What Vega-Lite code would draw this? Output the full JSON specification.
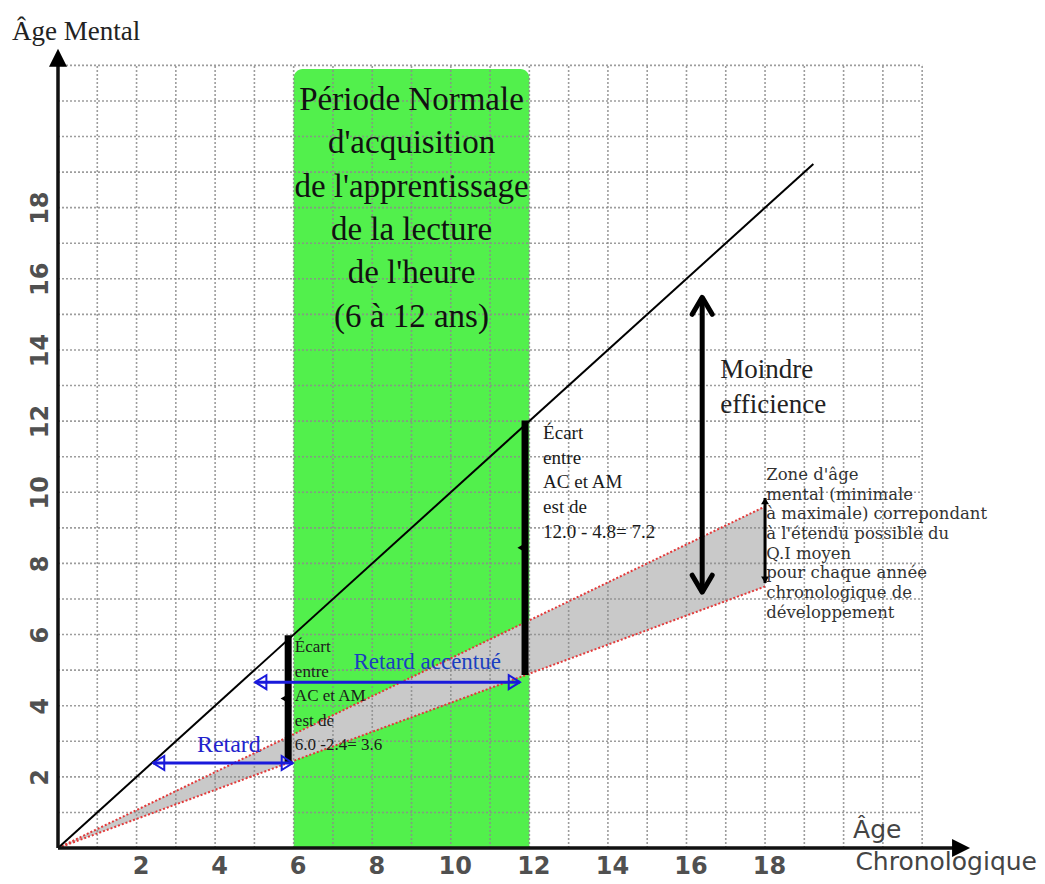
{
  "$schema": "https://vega.github.io/schema/vega-lite/v6.json",
  "width": 982,
  "height": 836,
  "autosize": {"type": "none"},
  "padding": {"left": 58, "top": 12, "right": 5, "bottom": 36},
  "background": "white",
  "config": {"view": {"stroke": null}},
  "datasets": {
    "green": [{"x": 6, "x2": 12, "y": 0, "y2": 21.9}],
    "band": [{"x": 0, "y": 0, "y2": 0}, {"x": 18, "y": 9.6, "y2": 7.35}],
    "edges": [{"x": 0, "y": 0, "edge": "upper"}, {"x": 18, "y": 9.6, "edge": "upper"}, {"x": 0, "y": 0, "edge": "lower"}, {"x": 18, "y": 7.35, "edge": "lower"}],
    "gridV": [{"x": 1, "y": 0, "y2": 22}, {"x": 2, "y": 0, "y2": 22}, {"x": 3, "y": 0, "y2": 22}, {"x": 4, "y": 0, "y2": 22}, {"x": 5, "y": 0, "y2": 22}, {"x": 6, "y": 0, "y2": 22}, {"x": 7, "y": 0, "y2": 22}, {"x": 8, "y": 0, "y2": 22}, {"x": 9, "y": 0, "y2": 22}, {"x": 10, "y": 0, "y2": 22}, {"x": 11, "y": 0, "y2": 22}, {"x": 12, "y": 0, "y2": 22}, {"x": 13, "y": 0, "y2": 22}, {"x": 14, "y": 0, "y2": 22}, {"x": 15, "y": 0, "y2": 22}, {"x": 16, "y": 0, "y2": 22}, {"x": 17, "y": 0, "y2": 22}, {"x": 18, "y": 0, "y2": 22}, {"x": 19, "y": 0, "y2": 22}, {"x": 20, "y": 0, "y2": 22}, {"x": 21, "y": 0, "y2": 22}, {"x": 22, "y": 0, "y2": 22}],
    "gridH": [{"y": 1, "x": 0, "x2": 22}, {"y": 2, "x": 0, "x2": 22}, {"y": 3, "x": 0, "x2": 22}, {"y": 4, "x": 0, "x2": 22}, {"y": 5, "x": 0, "x2": 22}, {"y": 6, "x": 0, "x2": 22}, {"y": 7, "x": 0, "x2": 22}, {"y": 8, "x": 0, "x2": 22}, {"y": 9, "x": 0, "x2": 22}, {"y": 10, "x": 0, "x2": 22}, {"y": 11, "x": 0, "x2": 22}, {"y": 12, "x": 0, "x2": 22}, {"y": 13, "x": 0, "x2": 22}, {"y": 14, "x": 0, "x2": 22}, {"y": 15, "x": 0, "x2": 22}, {"y": 16, "x": 0, "x2": 22}, {"y": 17, "x": 0, "x2": 22}, {"y": 18, "x": 0, "x2": 22}, {"y": 19, "x": 0, "x2": 22}, {"y": 20, "x": 0, "x2": 22}, {"y": 21, "x": 0, "x2": 22}, {"y": 22, "x": 0, "x2": 22}],
    "diag": [{"x": 0, "y": 0}, {"x": 19.23, "y": 19.23}],
    "axes": [{"x": 0, "x2": 0, "y": 0, "y2": 22.1}, {"x": 0, "x2": 22.9, "y": 0, "y2": 0}],
    "tips": [{"x": 0, "y": 22.47, "dir": "up"}, {"x": 23.22, "y": 0, "dir": "right"}],
    "brackets": [{"x": 5.86, "y": 2.42, "y2": 5.98}, {"x": 11.89, "y": 4.86, "y2": 12.02}],
    "notches": [{"x": 5.86, "y": 4.2}, {"x": 11.89, "y": 8.44}],
    "blue": [{"x": 2.42, "x2": 5.98, "y": 2.39}, {"x": 5.02, "x2": 11.76, "y": 4.66}],
    "blueHeads": [{"x": 2.42, "y": 2.39, "side": "left"}, {"x": 5.98, "y": 2.39, "side": "right"}, {"x": 5.02, "y": 4.66, "side": "left"}, {"x": 11.76, "y": 4.66, "side": "right"}],
    "bigArrow": [{"x": 16.4, "y": 7.19, "y2": 15.48}],
    "bigHeads": [{"x": 16.4, "y": 15.48, "end": "top"}, {"x": 16.4, "y": 7.19, "end": "bottom"}],
    "smallArrow": [{"x": 18.0, "y": 7.45, "y2": 9.84}],
    "smallHeads": [{"x": 18.0, "y": 9.84, "end": "top"}, {"x": 18.0, "y": 7.45, "end": "bottom"}],
    "period": [{"x": 9.0, "y": 21.03, "text": "Période Normale\nd'acquisition\nde l'apprentissage\nde la lecture\nde l'heure\n(6 à 12 ans)"}],
    "moindre": [{"x": 16.86, "y": 13.44, "text": "Moindre\nefficience"}],
    "retard": [{"x": 4.35, "y": 2.9, "text": "Retard"}],
    "retardAcc": [{"x": 9.4, "y": 5.23, "text": "Retard accentué"}],
    "ecart1": [{"x": 6.03, "y": 5.65, "text": "Écart\nentre\nAC et AM\nest de\n6.0 -2.4= 3.6"}],
    "ecart2": [{"x": 12.35, "y": 11.67, "text": "Écart\nentre\nAC et AM\nest de\n12.0 - 4.8= 7.2"}],
    "zone": [{"x": 18.03, "y": 10.49, "text": "Zone d'âge\nmental (minimale\nà maximale) correpondant\nà l'étendu possible du\nQ.I moyen\npour chaque année\nchronologique de\ndéveloppement"}],
    "ageMental": [{"x": -1.17, "y": 22.94, "text": "Âge Mental"}],
    "ageChrono": [{"x": 20.24, "y": 0.51, "text": "Âge"}, {"x": 20.3, "y": -0.39, "text": "Chronologique"}]
  },
  "encoding": {
    "x": {
      "field": "x", "type": "quantitative",
      "scale": {"domain": [0, 25], "nice": false, "zero": false},
      "axis": {"values": [2, 4, 6, 8, 10, 12, 14, 16, 18], "title": null, "domain": false, "ticks": false, "grid": false,
               "labelFont": "DejaVu Sans", "labelFontSize": 24, "labelFontWeight": "bold", "labelColor": "#505050", "labelPadding": 6, "labelOffset": 4, "zindex": 1}
    },
    "y": {
      "field": "y", "type": "quantitative",
      "scale": {"domain": [0, 23.5], "nice": false, "zero": false},
      "axis": {"values": [2, 4, 6, 8, 10, 12, 14, 16, 18], "title": null, "domain": false, "ticks": false, "grid": false,
               "labelFont": "DejaVu Sans", "labelFontSize": 24, "labelFontWeight": "bold", "labelColor": "#505050", "labelPadding": 6,
               "labelAngle": 270, "labelAlign": "center", "labelBaseline": "bottom", "zindex": 1}
    }
  },
  "layer": [
    {"data": {"name": "green"}, "mark": {"type": "rect", "color": "#52F04C", "cornerRadiusTopLeft": 9, "cornerRadiusTopRight": 9},
     "encoding": {"x2": {"field": "x2"}, "y2": {"field": "y2"}}},
    {"data": {"name": "band"}, "mark": {"type": "area", "color": "#C9C9C9", "opacity": 1},
     "encoding": {"y2": {"field": "y2"}}},
    {"data": {"name": "gridV"}, "mark": {"type": "rule", "color": "#8c8c8c", "strokeWidth": 1.6, "strokeDash": [2, 2], "opacity": 0.85},
     "encoding": {"y2": {"field": "y2"}}},
    {"data": {"name": "gridH"}, "mark": {"type": "rule", "color": "#8c8c8c", "strokeWidth": 1.6, "strokeDash": [2, 2], "opacity": 0.85},
     "encoding": {"x2": {"field": "x2"}}},
    {"data": {"name": "edges"}, "mark": {"type": "line", "color": "#E33A3A", "strokeWidth": 2, "strokeDash": [2, 2]},
     "encoding": {"detail": {"field": "edge"}}},
    {"data": {"name": "diag"}, "mark": {"type": "line", "color": "#000000", "strokeWidth": 2}, "encoding": {}},
    {"data": {"name": "axes"}, "mark": {"type": "rule", "color": "#111111", "strokeWidth": 3.5},
     "encoding": {"x2": {"field": "x2"}, "y2": {"field": "y2"}}},
    {"data": {"name": "tips"}, "transform": [{"filter": "datum.dir == 'up'"}],
     "mark": {"type": "point", "shape": "M0,0 L-1,2 L1,2 Z", "filled": true, "color": "#000000", "size": 324, "opacity": 1}},
    {"data": {"name": "tips"}, "transform": [{"filter": "datum.dir == 'right'"}],
     "mark": {"type": "point", "shape": "M0,0 L-2,-1 L-2,1 Z", "filled": true, "color": "#000000", "size": 324, "opacity": 1}},
    {"data": {"name": "brackets"}, "mark": {"type": "rule", "color": "#000000", "strokeWidth": 7},
     "encoding": {"y2": {"field": "y2"}}},
    {"data": {"name": "notches"}, "mark": {"type": "point", "shape": "triangle-left", "filled": true, "color": "#000000", "size": 70, "opacity": 1, "xOffset": -4}},
    {"data": {"name": "blue"}, "mark": {"type": "rule", "color": "#1A1ADB", "strokeWidth": 3},
     "encoding": {"x2": {"field": "x2"}}},
    {"data": {"name": "blueHeads"}, "transform": [{"filter": "datum.side == 'left'"}],
     "mark": {"type": "point", "shape": "M0,0 L1.6,-1 L1.6,1 Z", "filled": false, "color": "#1A1ADB", "strokeWidth": 2, "size": 196, "opacity": 1}},
    {"data": {"name": "blueHeads"}, "transform": [{"filter": "datum.side == 'right'"}],
     "mark": {"type": "point", "shape": "M0,0 L-1.6,-1 L-1.6,1 Z", "filled": false, "color": "#1A1ADB", "strokeWidth": 2, "size": 196, "opacity": 1}},
    {"data": {"name": "bigArrow"}, "mark": {"type": "rule", "color": "#000000", "strokeWidth": 5},
     "encoding": {"y2": {"field": "y2"}}},
    {"data": {"name": "bigHeads"}, "transform": [{"filter": "datum.end == 'top'"}],
     "mark": {"type": "point", "shape": "M-1,1.7 L0,0 L1,1.7", "filled": false, "color": "#000000", "strokeWidth": 5, "strokeCap": "round", "strokeJoin": "round", "size": 400, "opacity": 1}},
    {"data": {"name": "bigHeads"}, "transform": [{"filter": "datum.end == 'bottom'"}],
     "mark": {"type": "point", "shape": "M-1,-1.7 L0,0 L1,-1.7", "filled": false, "color": "#000000", "strokeWidth": 5, "strokeCap": "round", "strokeJoin": "round", "size": 400, "opacity": 1}},
    {"data": {"name": "smallArrow"}, "mark": {"type": "rule", "color": "#000000", "strokeWidth": 3},
     "encoding": {"y2": {"field": "y2"}}},
    {"data": {"name": "smallHeads"}, "transform": [{"filter": "datum.end == 'top'"}],
     "mark": {"type": "point", "shape": "M-1,1.6 L0,0 L1,1.6 Z", "filled": true, "color": "#000000", "size": 64, "opacity": 1}},
    {"data": {"name": "smallHeads"}, "transform": [{"filter": "datum.end == 'bottom'"}],
     "mark": {"type": "point", "shape": "M-1,-1.6 L0,0 L1,-1.6 Z", "filled": true, "color": "#000000", "size": 64, "opacity": 1}},
    {"data": {"name": "period"}, "mark": {"type": "text", "font": "Liberation Serif", "fontSize": 33, "lineHeight": 43.4, "lineBreak": "\n", "align": "center", "baseline": "middle", "color": "#111111"},
     "encoding": {"text": {"field": "text"}}},
    {"data": {"name": "moindre"}, "mark": {"type": "text", "font": "Liberation Serif", "fontSize": 27, "lineHeight": 35, "lineBreak": "\n", "align": "left", "baseline": "middle", "color": "#222222"},
     "encoding": {"text": {"field": "text"}}},
    {"data": {"name": "retard"}, "mark": {"type": "text", "font": "Liberation Serif", "fontSize": 24, "align": "center", "baseline": "middle", "color": "#2323CC"},
     "encoding": {"text": {"field": "text"}}},
    {"data": {"name": "retardAcc"}, "mark": {"type": "text", "font": "Liberation Serif", "fontSize": 23, "align": "center", "baseline": "middle", "color": "#1A3FC0"},
     "encoding": {"text": {"field": "text"}}},
    {"data": {"name": "ecart1"}, "mark": {"type": "text", "font": "Liberation Serif", "fontSize": 17, "lineHeight": 24.5, "lineBreak": "\n", "align": "left", "baseline": "middle", "color": "#1b1b1b"},
     "encoding": {"text": {"field": "text"}}},
    {"data": {"name": "ecart2"}, "mark": {"type": "text", "font": "Liberation Serif", "fontSize": 19, "lineHeight": 24.8, "lineBreak": "\n", "align": "left", "baseline": "middle", "color": "#1b1b1b"},
     "encoding": {"text": {"field": "text"}}},
    {"data": {"name": "zone"}, "mark": {"type": "text", "font": "DejaVu Serif", "fontSize": 16.5, "lineHeight": 19.7, "lineBreak": "\n", "align": "left", "baseline": "middle", "color": "#333333"},
     "encoding": {"text": {"field": "text"}}},
    {"data": {"name": "ageMental"}, "mark": {"type": "text", "font": "Liberation Serif", "fontSize": 27, "align": "left", "baseline": "middle", "color": "#222222"},
     "encoding": {"text": {"field": "text"}}},
    {"data": {"name": "ageChrono"}, "mark": {"type": "text", "font": "DejaVu Sans", "fontSize": 25, "align": "left", "baseline": "middle", "color": "#444444"},
     "encoding": {"text": {"field": "text"}}}
  ]
}
